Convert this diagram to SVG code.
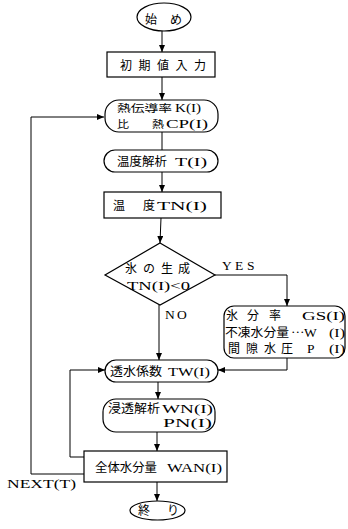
<svg xmlns="http://www.w3.org/2000/svg" width="348" height="529" viewBox="0 0 348 529">
<defs>
<marker id="ah" markerUnits="userSpaceOnUse" markerWidth="7" markerHeight="6" refX="7" refY="3" orient="auto">
<path d="M0,0 L7,3 L0,6 z" fill="#000"/>
</marker>
<style>
.box{fill:#fff;stroke:#000;stroke-width:1.2}
.ln{fill:none;stroke:#000;stroke-width:1}
.ar{marker-end:url(#ah)}
text{font-family:"Liberation Serif","Noto Sans CJK JP",serif;font-size:13.5px;fill:#000}
.j{font-family:"Noto Sans CJK JP","Liberation Serif",sans-serif;font-size:12px}
.s{font-size:12px}
.js{font-size:10.3px}
</style>
</defs>
<rect width="348" height="529" fill="#fff"/>
<g id="connectors">
<path class="ln ar" d="M162,31 L162,52"/>
<path class="ln ar" d="M162,77 L162,100"/>
<path class="ln" d="M162,132 L162,150"/>
<path class="ln ar" d="M162,172 L162,192"/>
<path class="ln ar" d="M161,218 L160,243"/>
<path class="ln ar" d="M215,275 L287,275 L287,306"/>
<path class="ln ar" d="M159,305 L159,360"/>
<path class="ln ar" d="M287,358 L287,370 L218,370"/>
<path class="ln ar" d="M158,382 L158,399"/>
<path class="ln ar" d="M157,432 L157,451"/>
<path class="ln ar" d="M157,482 L157,501"/>
<path class="ln ar" d="M84,457 L70,457 L70,370 L105,370"/>
<path class="ln ar" d="M84,474 L31,474 L31,117 L104,117"/>
</g>
<g id="start">
<ellipse class="box" cx="164" cy="17" rx="27" ry="14"/>
<text class="j" x="145" y="24">始</text><text class="j" x="170" y="24">め</text>
</g>
<g id="init">
<rect class="box" x="107" y="52" width="108" height="25"/>
<text class="j" x="120 138.5 157 175.5 194" y="70">初期値入力</text>
</g>
<g id="k">
<rect class="box" x="105" y="100" width="113" height="32" rx="14"/>
<text class="j js" x="117" y="112" textLength="55" lengthAdjust="spacingAndGlyphs">熱伝導率</text>
<text class="s" x="175" y="112" textLength="26" lengthAdjust="spacingAndGlyphs">K(I)</text>
<text class="j js" x="117" y="127.5" textLength="12" lengthAdjust="spacingAndGlyphs">比</text><text class="j js" x="152" y="127.5" textLength="12" lengthAdjust="spacingAndGlyphs">熱</text>
<text class="s" x="166" y="127.5" textLength="42" lengthAdjust="spacingAndGlyphs">CP(I)</text>
</g>
<g id="temp">
<rect class="box" x="104" y="150" width="114" height="22" rx="11"/>
<text class="j" x="117" y="166" textLength="50" lengthAdjust="spacingAndGlyphs">温度解析</text>
<text x="175" y="166" textLength="32" lengthAdjust="spacingAndGlyphs">T(I)</text>
</g>
<g id="tn">
<rect class="box" x="104" y="192" width="117" height="26"/>
<text class="j" x="113" y="210">温</text><text class="j" x="143" y="210">度</text>
<text x="157" y="210" textLength="50" lengthAdjust="spacingAndGlyphs">TN(I)</text>
</g>
<g id="decision">
<polygon class="box" points="160,243 215,275 160,305 105,275"/>
<text class="j" x="125 143 161 178" y="273">氷の生成</text>
<text x="127" y="290" textLength="63" lengthAdjust="spacingAndGlyphs">TN(I)&lt;0</text>
<text x="222 235 247" y="270">YES</text>
<text x="165 177" y="319">NO</text>
</g>
<g id="ice">
<rect class="box" x="224" y="306" width="121" height="52" rx="10"/>
<text class="j" x="226" y="320">氷</text><text class="j" x="247" y="320">分</text><text class="j" x="269" y="320">率</text>
<text x="302" y="320" textLength="43" lengthAdjust="spacingAndGlyphs">GS(I)</text>
<text class="j" x="225" y="337" textLength="64" lengthAdjust="spacingAndGlyphs">不凍水分量</text>
<text x="291" y="336" font-size="9">···</text>
<text x="304" y="337">W</text>
<text x="329" y="337" textLength="16" lengthAdjust="spacingAndGlyphs">(I)</text>
<text class="j" x="228" y="353">間</text><text class="j" x="246" y="353">隙</text><text class="j" x="264" y="353">水</text><text class="j" x="281" y="353">圧</text>
<text x="307" y="353">P</text>
<text x="329" y="353" textLength="16" lengthAdjust="spacingAndGlyphs">(I)</text>
</g>
<g id="tw">
<rect class="box" x="105" y="360" width="113" height="22" rx="11"/>
<text class="j" x="110" y="376" textLength="52" lengthAdjust="spacingAndGlyphs">透水係数</text>
<text x="168" y="376" textLength="42" lengthAdjust="spacingAndGlyphs">TW(I)</text>
</g>
<g id="wn">
<rect class="box" x="103" y="399" width="112" height="33" rx="13"/>
<text class="j" x="108" y="413" textLength="52" lengthAdjust="spacingAndGlyphs">浸透解析</text>
<text x="162" y="413" textLength="51" lengthAdjust="spacingAndGlyphs">WN(I)</text>
<text x="163" y="427" textLength="49" lengthAdjust="spacingAndGlyphs">PN(I)</text>
</g>
<g id="wan">
<rect class="box" x="84" y="451" width="143" height="31"/>
<text class="j" x="95" y="472" textLength="62" lengthAdjust="spacingAndGlyphs">全体水分量</text>
<text x="167" y="472" textLength="55" lengthAdjust="spacingAndGlyphs">WAN(I)</text>
<text x="7" y="488" textLength="69" lengthAdjust="spacingAndGlyphs">NEXT(T)</text>
</g>
<g id="end">
<ellipse class="box" cx="157.5" cy="510.5" rx="27.5" ry="9.5"/>
<text class="j" x="138" y="515">終</text><text class="j" x="167" y="515">り</text>
</g>
</svg>
